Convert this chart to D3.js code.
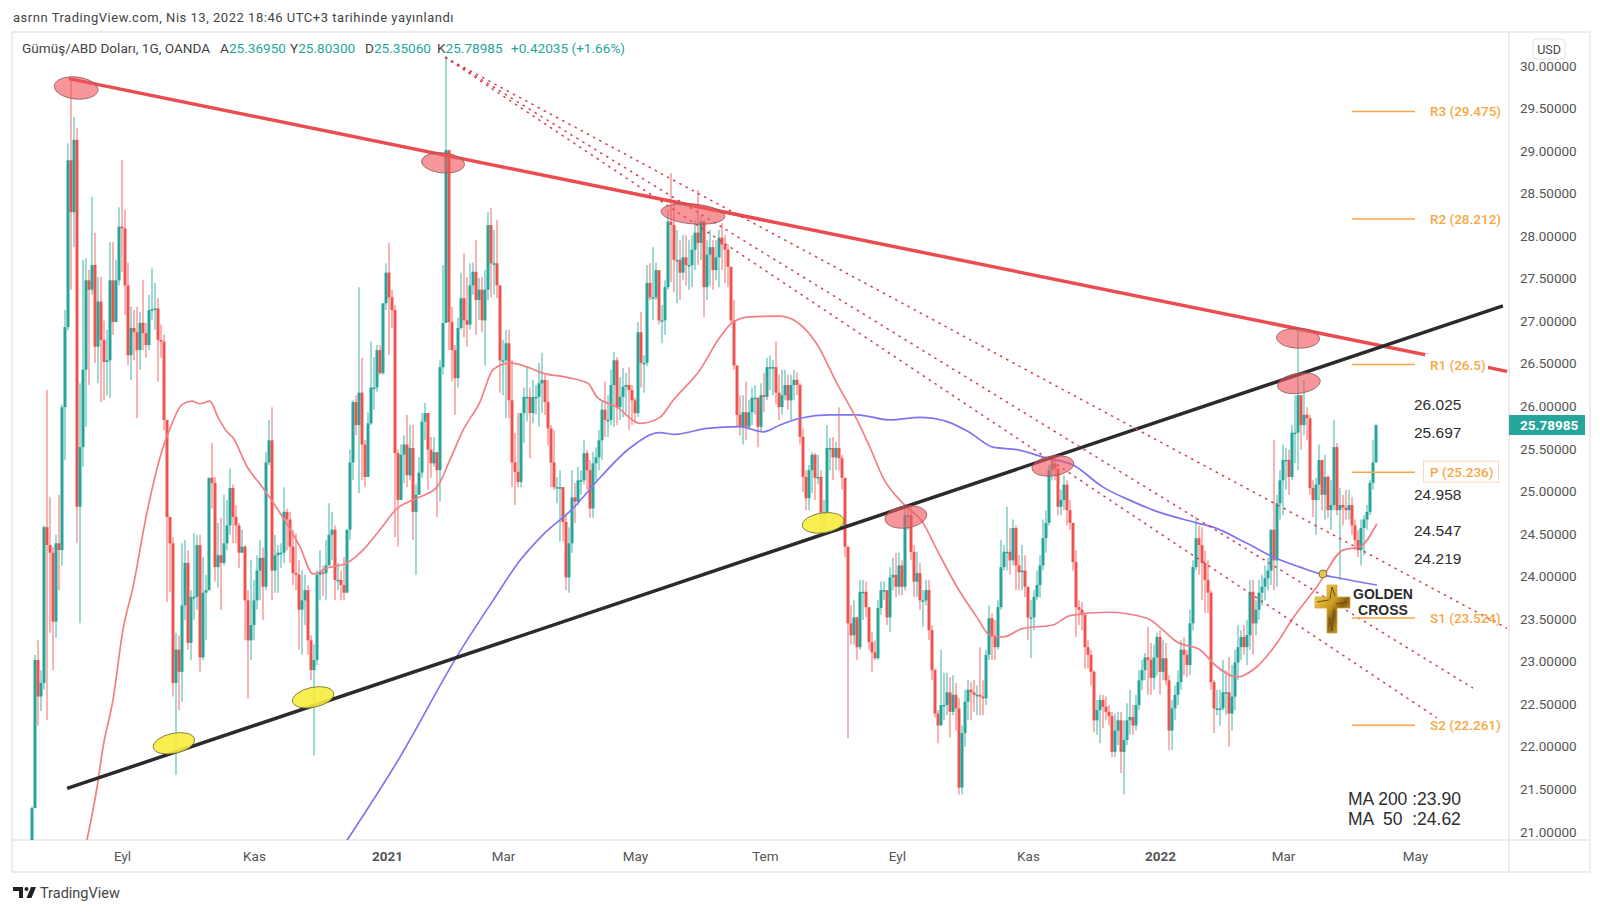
<!DOCTYPE html>
<html>
<head>
<meta charset="utf-8">
<title>XAGUSD</title>
<script src="https://cdn.jsdelivr.net/npm/d3@7"></script>
<style>
html, body { margin: 0; padding: 0; background: #fff; }
svg { display: block; font-family: Roboto, "Noto Sans", sans-serif; }
</style>
</head>
<body>
<div id="chart"></div>
<script>
// daily closes (candle open = previous close)
var firstOpen = 20.60;
var closes = [
21.29,23.03,22.60,22.76,24.59,24.38,24.29,23.48,24.40,24.32,
26.00,26.94,28.90,28.29,29.14,24.83,25.53,26.44,27.49,27.38,
27.67,26.71,27.24,26.79,26.53,26.55,27.49,27.00,27.49,28.12,
28.10,27.43,26.61,26.93,26.88,26.67,26.99,26.87,26.73,27.14,
27.15,27.16,26.79,26.77,25.85,24.71,24.40,22.76,23.15,22.89,
23.67,24.17,23.23,23.77,23.77,24.38,23.06,23.82,23.85,25.17,
25.11,24.12,24.26,24.17,24.40,24.61,25.05,24.71,24.61,24.29,
24.36,23.73,23.26,23.44,23.73,24.08,24.23,23.89,25.35,25.61,
24.08,24.26,24.29,24.29,24.77,24.68,24.36,24.05,24.03,23.62,
23.73,23.85,23.26,22.91,23.03,24.03,24.06,24.05,24.14,24.50,
24.56,23.97,23.97,23.91,23.82,24.56,25.35,26.06,25.79,26.17,
25.56,25.18,25.81,26.23,26.23,26.67,26.40,27.22,27.58,27.29,
27.14,25.46,24.91,25.44,25.56,25.20,25.52,24.77,24.97,25.23,
25.83,25.93,25.50,25.34,25.47,25.26,26.47,26.99,29.02,27.00,
26.67,26.34,26.93,27.28,27.02,26.97,27.43,27.59,27.26,27.38,
27.02,27.38,28.14,27.69,27.69,27.43,26.55,26.55,26.75,26.08,
25.35,25.24,25.12,25.93,26.12,26.12,25.93,26.12,26.12,26.28,
26.32,26.06,25.75,25.35,25.06,25.06,25.06,24.65,24.00,24.40,
24.94,24.89,25.14,25.14,25.46,25.26,24.81,25.34,25.41,25.61,
25.97,25.85,25.85,26.26,26.55,26.00,26.12,26.24,26.26,26.20,
26.08,25.93,26.88,26.52,26.52,27.46,27.29,27.29,27.61,27.02,
27.02,27.41,28.18,28.14,27.73,27.73,27.58,27.76,27.67,27.67,
27.85,28.05,27.93,28.18,27.41,27.79,27.88,27.61,27.76,27.99,
27.91,27.85,27.65,27.02,26.49,25.91,25.77,25.94,25.77,25.94,
26.11,26.11,25.77,26.14,26.12,26.47,26.47,26.47,26.17,26.00,
26.14,26.26,26.08,26.26,26.32,26.26,25.65,25.18,24.93,25.26,
25.44,25.17,25.18,24.76,24.76,25.52,25.52,25.41,25.52,25.40,
25.17,24.36,23.46,23.32,23.53,23.18,23.83,23.83,23.65,23.24,
23.12,23.05,23.64,23.85,23.85,23.53,24.00,24.03,23.89,24.14,
23.89,24.73,24.73,24.30,23.95,24.05,23.73,23.73,23.85,23.38,
22.91,22.40,22.26,22.50,22.50,22.65,22.42,22.62,22.46,21.53,
22.17,22.54,22.68,22.65,22.62,22.62,22.60,22.58,23.09,23.52,
23.30,23.18,23.65,24.12,24.30,24.30,24.20,24.58,24.14,24.06,
24.08,23.89,23.53,23.53,23.77,23.91,24.14,24.46,24.64,25.26,
25.34,25.28,24.83,24.91,25.09,24.79,24.64,24.18,23.65,23.62,
23.56,23.18,23.09,22.89,22.32,22.44,22.56,22.48,22.42,22.37,
21.95,22.20,22.32,21.95,22.09,22.32,22.36,22.26,22.50,22.79,
22.91,23.06,23.03,22.82,23.06,23.30,22.89,23.05,22.79,22.20,
22.46,22.62,22.77,23.15,23.09,22.97,23.46,24.12,24.46,24.38,
24.17,23.97,23.82,22.77,22.46,22.46,22.46,22.65,22.65,22.40,
22.60,23.00,23.18,23.30,23.18,23.32,23.83,23.46,23.62,23.82,
23.89,23.99,24.08,24.56,24.20,24.87,25.14,25.38,25.38,25.18,
25.70,25.70,26.14,25.79,25.91,25.87,25.05,24.91,25.09,25.38,
24.97,25.18,24.79,24.85,25.53,24.79,24.85,24.82,24.79,24.85,
24.61,24.44,24.32,24.58,24.68,24.77,25.11,25.35,25.79];

var highs = [
21.31,23.09,23.26,22.91,24.61,26.20,24.94,24.36,24.50,24.97,
26.03,27.14,29.10,29.87,29.41,29.28,26.28,27.73,27.75,27.61,
28.47,28.05,27.53,27.53,27.02,26.91,27.94,27.94,27.73,28.35,
28.90,28.32,27.70,27.18,27.14,27.18,27.12,27.49,26.99,27.32,
27.63,27.46,27.28,26.97,26.85,25.85,24.71,24.47,23.35,23.32,
24.40,24.44,24.32,23.85,24.52,24.50,24.50,24.24,24.03,25.17,
25.58,25.18,24.64,24.70,24.97,24.91,25.28,25.09,24.85,24.64,
24.56,24.38,23.85,24.20,23.97,24.26,24.44,24.35,25.47,25.85,
26.00,24.50,24.38,24.40,25.06,24.81,24.77,24.56,24.52,24.20,
24.08,24.03,23.91,23.32,23.21,24.08,24.32,24.14,24.44,24.87,
24.77,24.61,24.17,24.08,24.24,24.56,25.50,26.08,26.14,27.41,
26.58,25.61,25.94,26.77,26.59,26.73,26.73,27.22,27.69,27.93,
27.38,27.20,25.50,25.56,25.67,25.91,25.79,25.79,25.09,25.41,
25.93,26.05,25.93,25.65,25.65,25.47,26.55,27.67,30.13,29.02,
27.18,26.73,27.05,27.58,27.81,27.53,27.69,27.70,27.96,27.52,
27.53,27.61,28.29,28.34,28.08,28.20,27.43,26.79,26.91,26.91,
26.55,25.70,25.93,25.93,26.23,26.46,26.23,26.32,26.26,26.52,
26.64,26.38,26.32,25.79,25.73,25.18,25.26,25.06,24.73,24.59,
25.26,25.11,25.30,25.26,25.61,25.50,25.38,25.47,25.53,25.73,
26.08,26.30,26.14,26.44,26.65,26.59,26.35,26.46,26.40,26.47,
26.26,26.11,27.00,27.12,26.61,27.67,27.69,27.88,27.70,27.61,
27.20,27.49,28.32,28.75,28.43,28.08,27.96,28.02,28.02,27.96,
28.02,28.20,28.55,28.25,28.20,27.96,28.08,27.96,27.96,28.08,
28.16,28.02,27.91,27.65,27.26,26.49,26.14,26.14,26.30,26.08,
26.23,26.26,26.12,26.28,26.40,26.58,26.61,26.55,26.77,26.38,
26.44,26.44,26.38,26.38,26.44,26.41,26.28,25.75,25.26,25.32,
25.47,25.46,25.44,25.26,24.91,25.79,25.64,25.65,25.59,26.00,
25.44,25.17,24.36,23.67,23.73,23.53,23.97,23.97,23.95,23.53,
23.36,23.26,23.73,23.95,23.95,23.85,24.12,24.23,24.29,24.29,
24.20,24.81,24.83,24.83,24.38,24.30,24.17,23.85,23.97,23.97,
23.44,22.93,22.44,23.15,22.88,22.88,22.83,22.85,22.76,22.58,
22.26,22.68,22.79,22.77,22.79,22.73,23.18,22.79,23.15,23.67,
23.58,23.50,23.73,24.44,24.38,24.83,24.58,24.68,24.61,24.26,
24.38,24.26,23.85,23.73,23.85,24.08,24.26,24.68,24.79,25.32,
25.38,25.44,25.26,25.03,25.20,25.14,24.91,24.64,24.32,23.73,
23.71,23.59,23.26,23.15,22.91,22.56,22.62,22.62,22.60,22.50,
22.42,22.40,22.42,22.42,22.32,22.52,22.68,22.50,22.62,22.91,
23.03,23.11,23.42,23.23,23.21,23.35,23.38,23.26,23.23,22.85,
22.56,22.73,22.91,23.26,23.30,23.15,23.62,24.20,24.71,24.61,
24.59,24.32,24.20,23.85,22.79,22.68,22.68,23.03,22.91,23.06,
22.97,23.15,23.44,23.38,23.44,23.50,23.97,23.97,23.73,23.97,
24.03,24.14,24.23,24.56,25.61,24.97,25.26,25.56,25.52,25.50,
25.79,26.14,26.90,26.14,26.32,26.00,25.91,25.14,25.17,25.56,
25.38,25.44,25.20,25.14,25.85,25.58,25.05,24.97,25.03,25.03,
24.94,24.68,24.56,24.68,24.73,24.85,25.14,25.61,25.80];

var lows = [
20.68,21.29,22.26,22.43,22.68,22.32,23.35,22.91,23.29,23.85,
24.14,25.38,26.90,27.38,27.88,24.40,23.46,25.30,25.77,26.26,
27.32,26.52,26.28,26.06,26.08,26.14,26.11,26.85,27.00,27.43,
27.59,27.08,26.49,26.32,26.55,25.87,26.44,26.67,26.58,26.67,
27.02,26.91,26.30,26.58,25.73,23.71,23.83,22.60,21.68,22.44,
22.54,23.50,23.15,23.03,23.50,23.62,22.89,23.03,23.26,23.85,
24.81,23.95,23.88,23.62,24.14,24.32,24.50,24.40,24.40,24.11,
24.29,23.26,22.57,23.03,23.26,23.62,23.73,23.50,23.85,25.32,
23.73,23.82,23.82,24.11,24.17,24.32,24.17,23.91,23.85,23.15,
23.09,23.44,23.09,22.79,21.91,22.97,23.73,23.78,23.73,24.20,
24.20,23.73,23.85,23.73,23.73,23.82,24.44,25.14,25.67,24.99,
25.14,25.06,25.44,25.79,25.97,26.18,26.38,26.38,27.14,26.61,
26.93,24.47,24.36,24.91,25.11,25.06,25.14,24.44,24.03,24.99,
25.17,25.61,25.03,25.17,25.30,24.71,24.89,26.38,26.99,26.67,
26.30,25.91,26.23,26.91,26.82,26.71,26.91,27.32,26.85,27.02,
26.88,26.49,27.26,27.29,27.32,27.28,26.17,26.14,25.87,25.87,
25.06,24.85,25.06,25.06,25.58,25.83,25.40,25.81,25.91,25.77,
25.93,25.91,25.55,25.06,25.03,24.87,24.42,24.42,23.85,23.82,
24.29,24.64,24.85,24.97,25.09,25.03,24.70,24.70,25.14,25.26,
25.38,25.65,25.65,25.79,25.77,25.79,25.85,25.88,25.93,25.73,
25.79,25.81,25.88,26.23,26.17,26.48,27.26,27.02,27.26,26.97,
26.75,26.85,27.38,27.47,27.35,27.22,27.26,27.49,27.43,27.38,
27.41,27.61,27.67,27.73,27.06,27.26,27.43,27.38,27.49,27.41,
27.61,27.46,27.41,26.97,26.44,25.77,25.67,25.56,25.61,25.73,
25.79,25.91,25.53,25.71,25.94,26.08,26.20,26.14,26.03,25.85,
25.91,26.08,25.97,25.85,26.08,26.14,25.56,25.00,24.79,24.79,
24.99,24.91,25.09,24.52,24.56,24.76,25.26,25.14,25.26,25.26,
25.03,24.24,22.11,23.21,23.21,23.03,23.15,23.50,23.53,23.15,
22.89,23.03,23.03,23.56,23.73,23.44,23.36,23.85,23.77,23.79,
23.79,23.85,24.56,24.20,23.77,23.77,23.62,23.42,23.67,23.26,
22.79,22.35,22.05,22.26,22.32,22.38,22.12,22.38,22.20,21.45,
21.45,22.01,22.32,22.32,22.42,22.38,22.38,22.38,22.50,23.03,
23.03,23.03,23.15,23.62,24.08,24.08,24.03,24.14,23.85,23.85,
23.85,23.77,23.26,23.05,23.38,23.73,23.76,24.08,24.29,24.61,
25.14,25.14,24.73,24.73,24.79,24.61,24.56,24.08,23.30,23.44,
23.38,22.93,22.93,22.73,22.18,22.15,22.05,22.23,22.32,22.26,
21.89,21.89,22.03,21.70,21.45,22.03,22.15,22.15,22.20,22.44,
22.68,22.79,22.62,22.62,22.68,22.85,22.62,22.79,22.73,21.97,
21.97,22.32,22.50,22.68,22.85,22.83,22.85,23.38,24.08,24.03,
23.73,23.58,23.58,22.68,22.17,22.38,22.26,22.44,22.38,22.01,
22.20,22.44,22.79,23.03,23.09,22.97,23.15,23.09,23.32,23.50,
23.67,23.73,23.85,23.91,23.85,23.89,24.68,24.73,25.03,24.97,
25.14,25.34,25.26,25.50,25.67,25.61,24.97,24.71,24.50,24.91,
24.79,24.68,24.70,24.56,24.79,24.73,23.97,24.61,24.68,24.68,
24.50,24.32,24.24,24.14,24.26,24.56,24.73,25.03,25.35];

// moving averages, read at bar positions
var ma50Bars = [18.3,21.7,23.7,27,30.3,33.7,38.3,43.7,46,50,53.3,56,59.3,62,65,67,71.7,77,83.7,89.3,93.7,98.3,105,110.3,116,121.7,128.3,135,139.3,143.7,149.3,153.7,159.3,166,170.3,178.3,185.3,188.3,195,202.7,209.3,213.7,222.7,229.3,233.7,239.3,249.3,261.3,268.3,275,279.3,283.7,290.3,297,301.7,308.3,315,319.3,323.7,330.3,340.3,346,358.3,371.7,377,381.7,389.3,395,401.7,408.3,415,420.3,428.3,437,442.7,448.3];
var ma50Values = [20.91,21.54,22.01,22.56,23.38,23.89,24.76,25.53,25.75,26.03,26.07,26.04,26.07,25.88,25.71,25.64,25.3,25.05,24.7,24.36,24.04,24.11,24.17,24.32,24.56,24.81,24.93,25.06,25.38,25.73,26.06,26.44,26.52,26.46,26.4,26.35,26.28,26.12,26.0,25.81,25.88,26.08,26.44,26.82,27.0,27.06,27.07,26.76,26.28,25.85,25.53,25.17,24.87,24.64,24.32,23.89,23.53,23.32,23.3,23.4,23.44,23.55,23.59,23.52,23.38,23.24,23.15,22.95,22.83,22.95,23.23,23.52,23.89,24.32,24.36,24.63];
var ma200Bars = [105,122,142.3,153.7,162.7,170.3,180.3,189.3,199.3,209.3,214.3,225,236,243.7,249.3,256,266,275,286,296,305,312.7,320.3,328.3,338.3,347,357,367,373.7,388.3,393.7,405,413.7,422.7,430.3,436,448.3];
var ma200Values = [20.91,21.85,23.11,23.73,24.2,24.5,24.81,25.17,25.52,25.7,25.68,25.75,25.77,25.71,25.79,25.87,25.91,25.91,25.85,25.88,25.83,25.7,25.53,25.5,25.4,25.32,25.06,24.89,24.79,24.64,24.59,24.4,24.24,24.12,24.03,23.99,23.91];

var priceTicks = [21,21.5,22,22.5,23,23.5,24,24.5,25,25.5,26,26.5,27,27.5,28,28.5,29,29.5,30];
var monthBars = [30,74,118.3,157,201,244.3,288.3,332,376,417,461];
var monthLabels = ["Eyl","Kas","2021","Mar","May","Tem","Eyl","Kas","2022","Mar","May"];
var boldMonths = ["2021","2022"];

var pivotNames = ["R3 (29.475)","R2 (28.212)","R1 (26.5)","P (25.236)","S1 (23.524)","S2 (22.261)"];
var pivotLevels = [29.475,28.212,26.5,25.236,23.524,22.261];
var sideNumbers = ["26.025","25.697","24.958","24.547","24.219"];

var touchRed = [[14.7,29.75,22,11,6],[137,28.87,21.5,10,5],[220.3,28.27,32,10,5],[422,26.81,21.5,10,2],[422.3,26.28,21.5,10,-8],[291.3,24.71,21,11,-8],[340.3,25.31,21,10,-8]];
var touchYellow = [[47.3,22.05,21,10,-12],[93.7,22.59,21,10,-12],[263.7,24.64,21,10,-8]];

var w = 1600, h = 912;
var paneLeft = 12, paneRight = 1509, paneTop = 32, paneBottom = 840, frameRight = 1590, frameBottom = 872;
var green = "#26a69a", red = "#ef5350", orange = "#f7a745";

var x = d3.scaleLinear().domain([0, 448]).range([32, 1376]);
var y = d3.scaleLinear().domain([21, 30]).range([832.7, 66.7]);

var svg = d3.select("#chart").append("svg").attr("width", w).attr("height", h);
var defs = svg.append("defs");
defs.append("clipPath").attr("id", "pane").append("rect")
  .attr("x", paneLeft).attr("y", paneTop).attr("width", paneRight - paneLeft).attr("height", paneBottom - paneTop);
var gold = defs.append("linearGradient").attr("id", "gold").attr("x1", "0%").attr("y1", "0%").attr("x2", "100%").attr("y2", "100%");
gold.append("stop").attr("offset", "0%").attr("stop-color", "#f8dc66");
gold.append("stop").attr("offset", "45%").attr("stop-color", "#c9981f");
gold.append("stop").attr("offset", "60%").attr("stop-color", "#8a6014");
gold.append("stop").attr("offset", "100%").attr("stop-color", "#efc544");

// frame
svg.append("rect").attr("x", paneLeft).attr("y", paneTop).attr("width", frameRight - paneLeft).attr("height", frameBottom - paneTop)
  .attr("fill", "none").attr("stroke", "#e6e6e6").attr("stroke-width", 1.5);
svg.append("line").attr("x1", paneLeft).attr("x2", frameRight).attr("y1", paneBottom).attr("y2", paneBottom).attr("stroke", "#e6e6e6").attr("stroke-width", 1.5);
svg.append("line").attr("x1", paneRight).attr("x2", paneRight).attr("y1", paneTop).attr("y2", frameBottom).attr("stroke", "#e6e6e6").attr("stroke-width", 1.5);

// axes
var yAxis = d3.axisRight(y).tickValues(priceTicks).tickSize(0).tickPadding(11).tickFormat(function(d){ return d.toFixed(5); });
var yg = svg.append("g").attr("transform", "translate(" + paneRight + ",-1)").call(yAxis);
yg.select(".domain").remove();
yg.selectAll("text").attr("font-size", 13.5).attr("font-family", "Roboto, sans-serif").attr("fill", "#555");

var xAxis = d3.axisBottom(x).tickValues(monthBars).tickSize(0).tickPadding(0).tickFormat(function(d, i){ return monthLabels[i]; });
var xg = svg.append("g").attr("transform", "translate(0,851)").call(xAxis);
xg.select(".domain").remove();
xg.selectAll("text").attr("font-size", 13.5).attr("font-family", "Roboto, sans-serif").attr("fill", "#555")
  .attr("font-weight", function(d, i){ return boldMonths.indexOf(monthLabels[i]) >= 0 ? 700 : 400; });

// candles
var bars = d3.range(closes.length).map(function(i){
  var open = i == 0 ? firstOpen : closes[i - 1];
  return {i: i, open: open, close: closes[i], high: Math.max(highs[i], open, closes[i]), low: Math.min(lows[i], open, closes[i])};
});
var plot = svg.append("g").attr("clip-path", "url(#pane)");
var candle = plot.selectAll("g.candle").data(bars).enter().append("g").attr("class", "candle");
candle.append("line")
  .attr("x1", function(d){ return x(d.i); }).attr("x2", function(d){ return x(d.i); })
  .attr("y1", function(d){ return y(d.high); }).attr("y2", function(d){ return y(d.low); })
  .attr("stroke", function(d){ return d.close >= d.open ? green : red; })
  .attr("stroke-width", 1.1).attr("stroke-opacity", 0.8);
candle.append("rect")
  .attr("x", function(d){ return x(d.i) - 1.5; }).attr("width", 3)
  .attr("y", function(d){ return y(Math.max(d.open, d.close)); })
  .attr("height", function(d){ return Math.max(1.5, Math.abs(y(d.open) - y(d.close))); })
  .attr("fill", function(d){ return d.close >= d.open ? green : red; });

// moving averages
var maLine = d3.line().x(function(d){ return x(d[0]); }).y(function(d){ return y(d[1]); }).curve(d3.curveMonotoneX);
plot.append("path").attr("d", maLine(d3.zip(ma200Bars, ma200Values))).attr("fill", "none").attr("stroke", "#7f74f2").attr("stroke-width", 1.7);
plot.append("path").attr("d", maLine(d3.zip(ma50Bars, ma50Values))).attr("fill", "none").attr("stroke", "#f27f86").attr("stroke-width", 1.7);

// trend lines
plot.append("line").attr("x1", x(12.3)).attr("y1", y(29.86)).attr("x2", x(491.7)).attr("y2", y(26.42)).attr("stroke", "#ea4c50").attr("stroke-width", 3.5);
plot.append("line").attr("x1", x(11.7)).attr("y1", y(21.52)).attr("x2", x(490.3)).attr("y2", y(27.19)).attr("stroke", "#2b2b2b").attr("stroke-width", 3.5);

// label gap on the red line
svg.append("rect").attr("x", 1425).attr("y", y(26.5) - 11).attr("width", 63).attr("height", 24).attr("fill", "#fff");

// fan
[[491.7,23.40],[480.3,22.70],[468.3,22.35]].forEach(function(p){
  plot.append("line").attr("x1", x(137.7)).attr("y1", y(30.11)).attr("x2", x(p[0])).attr("y2", y(p[1]))
    .attr("stroke", "#d8404f").attr("stroke-width", 1.5).attr("stroke-dasharray", "2.5 4.5");
});

// touch marks
function marks(list, fill, op, edge){
  svg.selectAll(null).data(list).enter().append("ellipse")
    .attr("rx", function(d){ return d[2]; }).attr("ry", function(d){ return d[3]; })
    .attr("transform", function(d){ return "translate(" + x(d[0]) + "," + y(d[1]) + ") rotate(" + d[4] + ")"; })
    .attr("fill", fill).attr("fill-opacity", op).attr("stroke", edge).attr("stroke-width", 0.8);
}
marks(touchRed, "#f0565c", 0.62, "#8c5a5a");
marks(touchYellow, "#f7ec3c", 0.9, "#6f6f3a");

// pivots
svg.selectAll(null).data(pivotLevels).enter().append("line")
  .attr("x1", x(440)).attr("x2", x(461)).attr("y1", function(d){ return y(d); }).attr("y2", function(d){ return y(d); })
  .attr("stroke", orange).attr("stroke-width", 1.5);
svg.append("rect").attr("x", 1423.5).attr("y", y(25.236) - 11).attr("width", 75).attr("height", 21)
  .attr("fill", "#fff").attr("stroke", "#f7dcb4").attr("stroke-width", 1);
svg.selectAll(null).data(pivotNames).enter().append("text")
  .attr("x", 1430).attr("y", function(d, i){ return y(pivotLevels[i]) + 5; })
  .attr("font-size", 13.5).attr("font-weight", 500).attr("fill", orange).text(function(d){ return d; });

// numbers beside the pivots
svg.selectAll(null).data(sideNumbers).enter().append("text")
  .attr("x", 1414)
  .attr("y", function(d, i){ return [410, 438, 500, 536, 564][i]; })
  .attr("font-family", "'Liberation Sans', sans-serif").attr("font-size", 15.5).attr("fill", "#2e2e2e").text(function(d){ return d; });

// golden cross
plot.append("circle").attr("cx", x(430.3)).attr("cy", y(24.04)).attr("r", 4).attr("fill", "#e9c64f").attr("stroke", "#5c5c3c").attr("stroke-width", 0.8);
svg.append("path").attr("d", "M1327 585h10v12h13v11h-13v25h-10v-25h-12v-11h12z").attr("fill", "url(#gold)").attr("stroke", "#d4aa34").attr("stroke-width", 0.8);
svg.append("path").attr("d", "M1332 587l3 9M1332 587l-2 12M1317 602l12 -2M1348 602l-12 2M1332 631l2 -22M1332 631l-3 -14").attr("stroke", "#6e4a0c").attr("stroke-width", 1).attr("fill", "none");
svg.selectAll(null).data(["GOLDEN", "CROSS"]).enter().append("text")
  .attr("x", 1383).attr("y", function(d, i){ return 599 + i * 16; }).attr("text-anchor", "middle")
  .attr("font-family", "'Liberation Sans', sans-serif").attr("font-size", 14).attr("font-weight", 700).attr("fill", "#2b2b2b").text(function(d){ return d; });

// MA notes
svg.append("text").attr("x", 1348).attr("y", 805).attr("font-family", "'Liberation Sans', sans-serif").attr("font-size", 17.5).attr("fill", "#2e2e2e").text("MA 200 :23.90");
svg.append("text").attr("x", 1348).attr("y", 825).attr("font-family", "'Liberation Sans', sans-serif").attr("font-size", 17.5).attr("fill", "#2e2e2e").attr("xml:space", "preserve").text("MA  50  :24.62");

// price tag and currency
svg.append("rect").attr("x", paneRight).attr("y", y(25.78985) - 10).attr("width", 76).attr("height", 20).attr("fill", green);
svg.append("text").attr("x", 1520).attr("y", y(25.78985) + 5).attr("font-size", 13.5).attr("font-weight", 700).attr("fill", "#fff").text("25.78985");
svg.append("rect").attr("x", 1533).attr("y", 39).attr("width", 32).attr("height", 20).attr("rx", 4).attr("fill", "#fff").attr("stroke", "#e3e3e3");
svg.append("text").attr("x", 1549).attr("y", 54).attr("text-anchor", "middle").attr("font-size", 12.5).attr("fill", "#444").text("USD");

// header and legend
svg.append("text").attr("x", 13).attr("y", 22).attr("font-size", 13).attr("letter-spacing", 0.52).attr("fill", "#444").text("asrnn TradingView.com, Nis 13, 2022 18:46 UTC+3 tarihinde yayınlandı");
var legend = svg.append("text").attr("x", 22).attr("y", 53).attr("font-size", 13.6).attr("fill", "#444");
legend.append("tspan").text("Gümüş/ABD Doları, 1G, OANDA");
[["A", "25.36950", 220], ["Y", "25.80300", 290], ["D", "25.35060", 365], ["K", "25.78985", 437]].forEach(function(o){
  legend.append("tspan").attr("x", o[2]).text(o[0]);
  legend.append("tspan").attr("fill", green).text(o[1]);
});
legend.append("tspan").attr("x", 511).attr("fill", green).text("+0.42035 (+1.66%)");

// footer logo
svg.append("path").attr("d", "M13 887h10v11h-4v-7h-6zM31 887h5l-4.5 11h-5z").attr("fill", "#222");
svg.append("circle").attr("cx", 26.5).attr("cy", 889).attr("r", 2).attr("fill", "#222");
svg.append("text").attr("x", 40).attr("y", 898).attr("font-size", 14.5).attr("fill", "#444").text("TradingView");
</script>
</body>
</html>
